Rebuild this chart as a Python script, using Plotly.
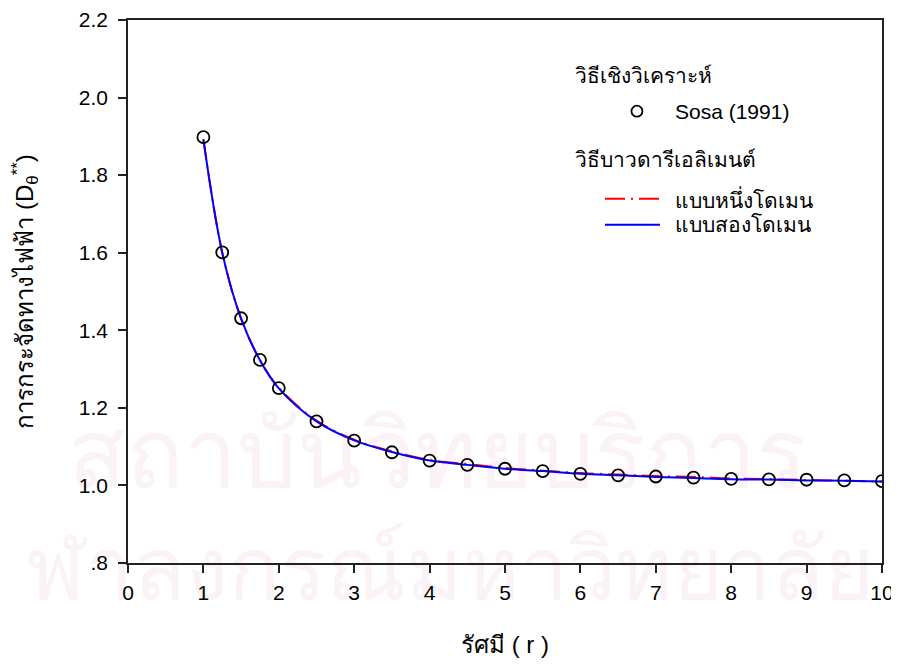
import plotly.graph_objects as go

# ---------------- data ----------------
radius = [1, 1.25, 1.5, 1.75, 2, 2.5, 3, 3.5, 4, 4.5, 5, 5.5, 6, 6.5, 7, 7.5, 8, 8.5, 9, 9.5, 10]
sosa_1991 = [1.898, 1.601, 1.431, 1.3235, 1.251, 1.165, 1.1155, 1.0855, 1.064, 1.053, 1.043,
             1.037, 1.030, 1.026, 1.023, 1.020, 1.017, 1.0155, 1.0147, 1.013, 1.011]
bem_one_domain = [1.892, 1.600, 1.430, 1.323, 1.252, 1.167, 1.118, 1.088, 1.066, 1.055, 1.045,
                  1.038, 1.032, 1.028, 1.024, 1.022, 1.018, 1.016, 1.014, 1.012, 1.010]
bem_two_domain = [1.892, 1.600, 1.430, 1.323, 1.250, 1.165, 1.116, 1.086, 1.064, 1.053, 1.043,
                  1.037, 1.030, 1.026, 1.022, 1.019, 1.016, 1.015, 1.013, 1.012, 1.010]

y_tickvals = [0.8, 1.0, 1.2, 1.4, 1.6, 1.8, 2.0, 2.2]
y_ticktext = [".8", "1.0", "1.2", "1.4", "1.6", "1.8", "2.0", "2.2"]
x_tickvals = [0, 1, 2, 3, 4, 5, 6, 7, 8, 9, 10]

name_analytic_group = "วิธีเชิงวิเคราะห์"
name_sosa = "Sosa (1991)"
name_bem_group = "วิธีบาวดารีเอลิเมนต์"
name_one = "แบบหนึ่งโดเมน"
name_two = "แบบสองโดเมน"
x_title = "รัศมี ( r )"
y_title = "การกระจัดทางไฟฟ้า (D<sub>θ</sub><sup>**</sup>)"
watermark_1 = "สถาบันวิทยบริการ"
watermark_2 = "ฬาลงกรณ์มหาวิทยาลัย"

FONT = "Liberation Sans, Arial, sans-serif"
DASHDOT = "20px,6px,2px,6px"

fig = go.Figure()
fig.add_trace(go.Scatter(x=radius, y=bem_one_domain, mode="lines", name=name_one,
                         line=dict(color="#ff0000", width=2, dash=DASHDOT, shape="spline"),
                         showlegend=False))
fig.add_trace(go.Scatter(x=radius, y=bem_two_domain, mode="lines", name=name_two,
                         line=dict(color="#0000ff", width=2, shape="spline"),
                         showlegend=False))
fig.add_trace(go.Scatter(x=radius, y=sosa_1991, mode="markers", name=name_sosa,
                         marker=dict(symbol="circle-open", size=12, color="black",
                                     line=dict(width=1.8, color="black")),
                         showlegend=False))

# -------- watermark (faded, below the data) --------
wm_color = "#faf2f6"
fig.add_shape(type="rect", xref="paper", yref="paper", x0=0.40, x1=0.42, y0=0.208, y1=0.228,
              line=dict(width=0), fillcolor="rgba(0,0,0,0)", layer="below",
              label=dict(text=watermark_1, font=dict(size=95, color=wm_color),
                         textposition="middle center"))
fig.add_shape(type="rect", xref="paper", yref="paper", x0=0.417, x1=0.437, y0=-0.006, y1=0.014,
              line=dict(width=0), fillcolor="rgba(0,0,0,0)", layer="below",
              label=dict(text=watermark_2, font=dict(size=86, color=wm_color),
                         textposition="middle center"))

# -------- manual legend --------
leg_font = dict(family=FONT, size=21, color="black")
fig.add_annotation(xref="paper", yref="paper", x=0.590, y=0.898, text=name_analytic_group,
                   showarrow=False, xanchor="left", yanchor="middle", font=leg_font)
fig.add_shape(type="circle", xref="paper", yref="paper", xsizemode="pixel", ysizemode="pixel",
              xanchor=0.675, yanchor=0.832, x0=-5.5, x1=5.5, y0=-5.5, y1=5.5,
              line=dict(color="black", width=1.8))
fig.add_annotation(xref="paper", yref="paper", x=0.7228, y=0.832, text=name_sosa,
                   showarrow=False, xanchor="left", yanchor="middle", font=leg_font)
fig.add_annotation(xref="paper", yref="paper", x=0.590, y=0.744, text=name_bem_group,
                   showarrow=False, xanchor="left", yanchor="middle", font=leg_font)
fig.add_shape(type="line", xref="paper", yref="paper", x0=0.6326, x1=0.7056, y0=0.671, y1=0.671,
              line=dict(color="#ff0000", width=2, dash=DASHDOT))
fig.add_annotation(xref="paper", yref="paper", x=0.7228, y=0.671, text=name_one,
                   showarrow=False, xanchor="left", yanchor="middle", font=leg_font)
fig.add_shape(type="line", xref="paper", yref="paper", x0=0.6326, x1=0.7056, y0=0.623, y1=0.623,
              line=dict(color="#0000ff", width=2))
fig.add_annotation(xref="paper", yref="paper", x=0.7228, y=0.623, text=name_two,
                   showarrow=False, xanchor="left", yanchor="middle", font=leg_font)

axis_common = dict(showgrid=False, zeroline=False, showline=True, linecolor="#222222",
                   linewidth=1.5, mirror=True, ticks="outside", ticklen=8, tickwidth=1.5,
                   tickcolor="#222222", ticklabeloverflow="allow",
                   tickfont=dict(family=FONT, size=21, color="black"))

fig.update_xaxes(range=[0, 10], tickvals=x_tickvals, ticklabelstandoff=2,
                 title=dict(text=x_title, font=dict(family=FONT, size=24, color="black"), standoff=33),
                 **axis_common)
fig.update_yaxes(range=[0.8, 2.2], tickvals=y_tickvals, ticktext=y_ticktext, ticklabelstandoff=6,
                 title=dict(text=y_title, font=dict(family=FONT, size=24, color="black"), standoff=40),
                 **axis_common)

# page body has an 8px default margin, so the figure is drawn 8px in from the corner
fig.update_layout(width=891, height=658, autosize=False,
                  margin=dict(l=120, r=17, t=12, b=103, autoexpand=False),
                  paper_bgcolor="white", plot_bgcolor="white", showlegend=False,
                  font=dict(family=FONT))

fig.write_html("out.html")
